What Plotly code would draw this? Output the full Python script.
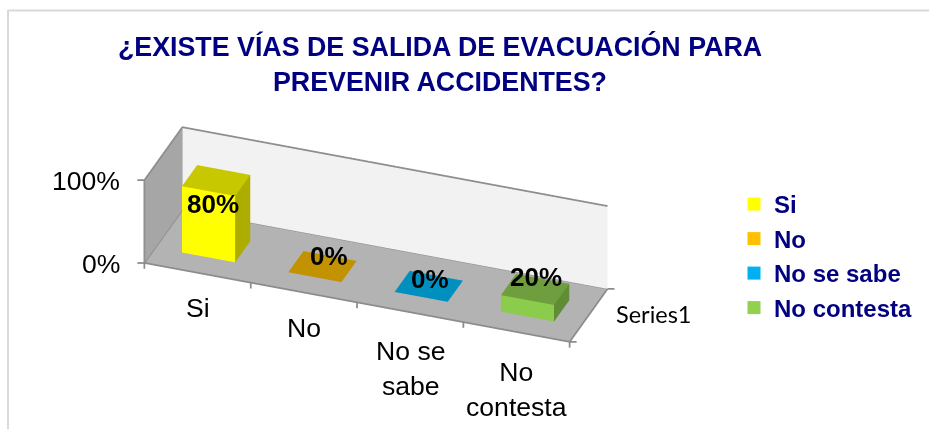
import math
import plotly.graph_objects as go

# ---------- data ----------
categories = ["Si", "No", "No se sabe", "No contesta"]
axis_labels = ["Si", "No", "No se<br>sabe", "No<br>contesta"]
values = [80, 0, 0, 20]
value_labels = ["80%", "0%", "0%", "20%"]
series_name = "Series1"
z_ticks = [0, 100]
z_tick_labels = ["0%", "100%"]
title_text = "¿EXISTE VÍAS DE SALIDA DE EVACUACIÓN PARA<br>PREVENIR ACCIDENTES?"

# ---------- styles ----------
legend_colors = ["#FFFF00", "#FFC000", "#00B0F0", "#92D050"]
front_colors = ["#FFFF00", "#C29200", "#0090C0", "#8CCC4D"]
side_colors = ["#ADAD00", "#C29200", "#0090C0", "#5F8C35"]
top_colors = ["#C8C800", "#C29200", "#0090C0", "#6F9E3E"]
NAVY = "#000080"
BAR_X0, BAR_W, BAR_D0, BAR_D = 0.25, 0.5, 0.29, 0.40
label_shift = [(-4, -24), (6, 10), (1, 7), (1, 12)]
category_yshift = [-18, -18, -22, -23]
FLOOR_Z = -0.5
LIGHT = dict(ambient=1, diffuse=0, specular=0, roughness=1, fresnel=0)

# camera: orthographic view solved from the chart's axis directions
EYE_DIR = (0.295, -0.809, 0.509)
EYE_LEN = 1.0
AX_PX = (453.4, 110.9, 96.4)
ZOOM = 2.327  # orthographic scale in plotly follows the aspect ratio
RANGE_X, RANGE_Y, RANGE_Z = [-0.1, 4.1], [-0.05, 1.05], [-10, 110]
aspect = dict(x=ZOOM * 4.2 / 4, y=ZOOM * AX_PX[1] / AX_PX[0] * 1.1, z=ZOOM * AX_PX[2] / AX_PX[0] * 1.2)


def quad_mesh(quads, colors):
    xs, ys, zs, i, j, k, fc = [], [], [], [], [], [], []
    for q, c in zip(quads, colors):
        n = len(xs)
        for p in q:
            xs.append(p[0]); ys.append(p[1]); zs.append(p[2])
        i += [n, n]; j += [n + 1, n + 2]; k += [n + 2, n + 3]
        fc += [c, c]
    return go.Mesh3d(x=xs, y=ys, z=zs, i=i, j=j, k=k, facecolor=fc, flatshading=True,
                     lighting=LIGHT, hoverinfo="skip", showlegend=False, showscale=False)


def line3d(xs, ys, zs, color="#8C8C8C", width=3.5):
    return go.Scatter3d(x=xs, y=ys, z=zs, mode="lines", line=dict(color=color, width=width),
                        hoverinfo="skip", showlegend=False)


fig = go.Figure()
n = len(categories)
top = max(z_ticks)

# walls and floor
fig.add_trace(quad_mesh([
    [(0, 0, FLOOR_Z), (n, 0, FLOOR_Z), (n, 1, FLOOR_Z), (0, 1, FLOOR_Z)],
    [(0, 0, FLOOR_Z), (0, 1, FLOOR_Z), (0, 1, top), (0, 0, top)],
    [(0, 1, FLOOR_Z), (n, 1, FLOOR_Z), (n, 1, top), (0, 1, top)],
], ["#B3B3B3", "#A6A6A6", "#F2F2F2"]))

# bars
for idx, v in enumerate(values):
    x0 = idx + BAR_X0
    x1 = x0 + BAR_W
    y0 = BAR_D0
    y1 = y0 + BAR_D
    fig.add_trace(quad_mesh([
        [(x0, y0, 0), (x1, y0, 0), (x1, y0, v), (x0, y0, v)],
        [(x1, y0, 0), (x1, y1, 0), (x1, y1, v), (x1, y0, v)],
        [(x0, y0, v), (x1, y0, v), (x1, y1, v), (x0, y1, v)],
    ], [front_colors[idx], side_colors[idx], top_colors[idx]]))

# edges and tick marks
fig.add_trace(line3d([0, n, n, 0, 0, 0], [0, 0, 1, 1, 0, 0], [0, 0, 0, 0, 0, top]))
fig.add_trace(line3d([0, 0, n], [0, 1, 1], [top, top, top]))
fig.add_trace(line3d([0, 0], [1, 1], [0, top]))
for t in range(n + 1):
    fig.add_trace(line3d([t, t], [0, 0], [0, -7]))
for t in z_ticks:
    fig.add_trace(line3d([0, -0.058], [0, -0.0216], [t, t]))
for d in (0, 1):
    fig.add_trace(line3d([n, n + 0.058], [d, d + 0.0216], [0, 0]))

# legend entries
for name, color in zip(categories, legend_colors):
    fig.add_trace(go.Scatter(x=[None], y=[None], mode="markers", name=name, legendgroup=name,
                             marker=dict(symbol="square", size=13, color=color)))

FONT = "Liberation Sans"
ann = []
for t, lab in zip(z_ticks, z_tick_labels):
    ann.append(dict(x=0, y=0, z=t, text=lab, showarrow=False, xanchor="right", yanchor="middle",
                    xshift=-22, yshift=-1, font=dict(family=FONT, size=26.6, color="#000000")))
for idx, lab in enumerate(axis_labels):
    ann.append(dict(x=idx + 0.5, y=0, z=0, text=lab, showarrow=False, xanchor="center", yanchor="top",
                    yshift=category_yshift[idx], font=dict(family=FONT, size=26.6, color="#000000")))
ann.append(dict(x=n, y=0.5, z=0, text=series_name, showarrow=False, xanchor="left", yanchor="middle",
                xshift=25, yshift=1, font=dict(family="Lato", size=23.5, color="#000000")))
for idx, (v, lab) in enumerate(zip(values, value_labels)):
    sx, sy = label_shift[idx]
    ann.append(dict(x=idx + 0.5, y=0.5, z=v, text=lab, showarrow=False, xanchor="center", yanchor="middle",
                    xshift=sx, yshift=sy, font=dict(family=FONT, size=26, color="#000000", weight=700)))

W, H = 929, 429
hidden = dict(visible=False, showgrid=False, zeroline=False, showticklabels=False, showspikes=False,
              showbackground=False, title="")
fig.update_layout(
    width=W, height=H, autosize=False,
    margin=dict(l=0, r=0, t=0, b=0),
    paper_bgcolor="#FFFFFF", plot_bgcolor="#FFFFFF",
    title=dict(text=title_text, x=440 / W, xanchor="center", y=1 - 56 / H, yanchor="top",
               font=dict(family=FONT, size=26.8, color=NAVY, weight=700)),
    scene=dict(
        domain=dict(x=[0, 752 / W], y=[0, 389 / H]),
        xaxis=dict(range=RANGE_X, **hidden),
        yaxis=dict(range=RANGE_Y, **hidden),
        zaxis=dict(range=RANGE_Z, **hidden),
        aspectmode="manual", aspectratio=aspect,
        camera=dict(projection=dict(type="orthographic"),
                    up=dict(x=0, y=0, z=1), center=dict(x=0, y=0, z=0),
                    eye=dict(x=EYE_DIR[0] * EYE_LEN, y=EYE_DIR[1] * EYE_LEN, z=EYE_DIR[2] * EYE_LEN)),
        annotations=ann,
    ),
    xaxis=dict(visible=False, domain=[0.82, 1]),
    yaxis=dict(visible=False, domain=[0.2, 0.8]),
    showlegend=True,
    legend=dict(x=734 / W, xanchor="left", y=1 - 182 / H, yanchor="top", tracegroupgap=0.3,
                bgcolor="rgba(0,0,0,0)", itemclick=False, itemdoubleclick=False,
                font=dict(family=FONT, size=24, color=NAVY, weight=700)),
    shapes=[
        dict(type="line", xref="paper", yref="paper", x0=8 / W, x1=8 / W, y0=0, y1=1 - 10 / H,
             line=dict(color="#D9D9D9", width=2)),
        dict(type="line", xref="paper", yref="paper", x0=8 / W, x1=1, y0=1 - 10.5 / H, y1=1 - 10.5 / H,
             line=dict(color="#D9D9D9", width=2)),
    ],
)
fig.write_html("out.html", config=dict(displayModeBar=False),
               post_script="document.body.style.margin='0';document.body.style.overflow='hidden';")
